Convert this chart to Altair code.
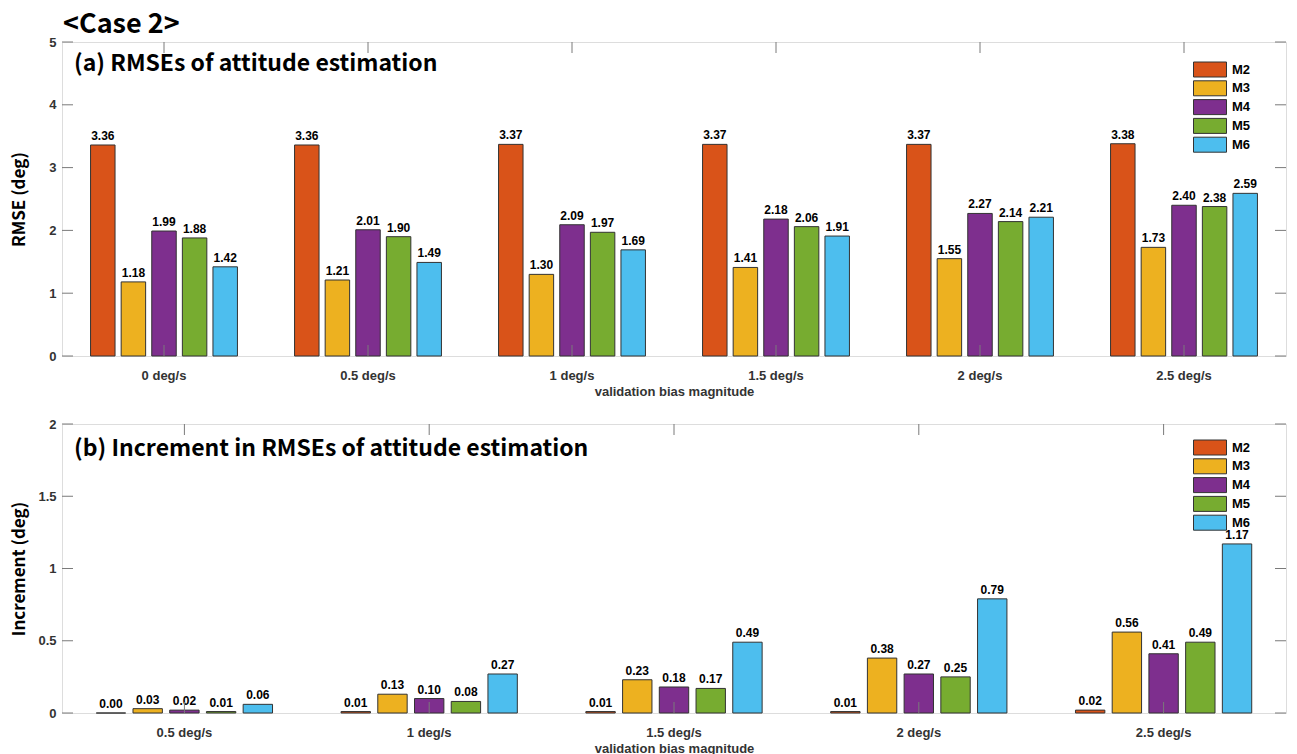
import altair as alt
import pandas as pd

series = ["M2", "M3", "M4", "M5", "M6"]
colors = ["#D95319", "#EDB120", "#7E2F8E", "#77AC30", "#4DBEEE"]

rmse_cats = ["0 deg/s", "0.5 deg/s", "1 deg/s", "1.5 deg/s", "2 deg/s", "2.5 deg/s"]
rmse_m2 = [3.36, 3.36, 3.37, 3.37, 3.37, 3.38]
rmse_m3 = [1.18, 1.21, 1.30, 1.41, 1.55, 1.73]
rmse_m4 = [1.99, 2.01, 2.09, 2.18, 2.27, 2.40]
rmse_m5 = [1.88, 1.90, 1.97, 2.06, 2.14, 2.38]
rmse_m6 = [1.42, 1.49, 1.69, 1.91, 2.21, 2.59]
rmse_ticks = [0, 1, 2, 3, 4, 5]

inc_cats = ["0.5 deg/s", "1 deg/s", "1.5 deg/s", "2 deg/s", "2.5 deg/s"]
inc_m2 = [0.00, 0.01, 0.01, 0.01, 0.02]
inc_m3 = [0.03, 0.13, 0.23, 0.38, 0.56]
inc_m4 = [0.02, 0.10, 0.18, 0.27, 0.41]
inc_m5 = [0.01, 0.08, 0.17, 0.25, 0.49]
inc_m6 = [0.06, 0.27, 0.49, 0.79, 1.17]
inc_ticks = [0, 0.5, 1, 1.5, 2]

FRAME = "#7a7a7a"
LBL = "#333333"
TICK = 11
W = 1224


def long_df(cats, cols):
    rows = []
    for s, vals in zip(series, cols):
        for c, v in zip(cats, vals):
            rows.append({"cat": c, "series": s, "value": v})
    return pd.DataFrame(rows)


def panel(df, cats, ticks, ymax, ytitle, ptitle, H, title_pad, leg_y, ptitle_y):
    xs = alt.Scale(paddingInner=0.25, paddingOuter=0.125)
    ys = alt.Scale(domain=[0, ymax], nice=False, zero=True)
    x = alt.X("cat:N", sort=cats, scale=xs,
              axis=alt.Axis(title="validation bias magnitude", labelAngle=0,
                            labelFont="Liberation Sans", labelFontWeight="bold",
                            labelFontSize=13, labelColor=LBL, labelPadding=13,
                            ticks=False, domain=False,
                            titleFont="Liberation Sans", titleFontWeight="bold",
                            titleFontSize=13, titleColor=LBL, titlePadding=3))
    y = alt.Y("value:Q", scale=ys,
              axis=alt.Axis(values=ticks, title=ytitle, format="~g", ticks=False,
                            domain=False, grid=False,
                            labelFont="Liberation Sans", labelFontWeight="bold",
                            labelFontSize=13, labelColor=LBL, labelPadding=6,
                            titleFont="Noto Sans CJK KR", titleFontWeight="bold",
                            titleFontSize=17, titleColor="black",
                            titlePadding=title_pad))
    xo = alt.XOffset("series:N", sort=series,
                     scale=alt.Scale(paddingInner=0.2, paddingOuter=0.1))
    color = alt.Color("series:N", sort=series,
                      scale=alt.Scale(domain=series, range=colors),
                      legend=alt.Legend(title=None, orient="none",
                                        legendX=1140, legendY=leg_y,
                                        symbolType="M-2.2,-1H2.2V1H-2.2Z",
                                        symbolSize=225, symbolStrokeColor="#333333",
                                        symbolStrokeWidth=1, symbolOpacity=1,
                                        labelFont="Liberation Sans",
                                        labelFontWeight="bold", labelFontSize=13,
                                        labelColor="black", labelOffset=14,
                                        rowPadding=-1.2, padding=0))
    bars = alt.Chart(df).mark_bar(stroke="#333333", strokeWidth=1).encode(
        x=x, xOffset=xo, y=y, color=color)
    labels = alt.Chart(df).mark_text(
        dy=-9, font="Liberation Sans", fontWeight="bold", fontSize=12,
        color="black").encode(
        x=x, xOffset=xo, y=y, text=alt.Text("value:Q", format=".2f"))
    tdf = pd.DataFrame({"value": ticks})
    yl = alt.Chart(tdf).mark_rule(color=FRAME).encode(
        y=alt.Y("value:Q"), x=alt.value(0), x2=alt.value(TICK))
    yr = alt.Chart(tdf).mark_rule(color=FRAME).encode(
        y=alt.Y("value:Q"), x=alt.value(W - TICK), x2=alt.value(W))
    cdf = pd.DataFrame({"cat": cats})
    xt = alt.Chart(cdf).mark_rule(color=FRAME).encode(
        x=alt.X("cat:N", sort=cats), y=alt.value(0), y2=alt.value(TICK))
    xb = alt.Chart(cdf).mark_rule(color=FRAME).encode(
        x=alt.X("cat:N", sort=cats), y=alt.value(H - TICK), y2=alt.value(H))
    ptxt = alt.Chart(pd.DataFrame({"t": [ptitle]})).mark_text(
        align="left", baseline="middle", font="Noto Sans CJK KR",
        fontWeight="bold", fontSize=23, color="black").encode(
        x=alt.value(12), y=alt.value(ptitle_y), text="t:N")
    return alt.layer(bars, labels, yl, yr, xt, xb, ptxt).properties(width=W, height=H)


top = panel(long_df(rmse_cats, [rmse_m2, rmse_m3, rmse_m4, rmse_m5, rmse_m6]),
            rmse_cats, rmse_ticks, 5, "RMSE (deg)",
            "(a) RMSEs of attitude estimation", 314, 20, 19.5, 22)
top = top.properties(title=alt.TitleParams(
    "<Case 2>", anchor="start", frame="group", font="Noto Sans CJK KR",
    fontSize=27, fontWeight="bold", color="black", offset=-3, dx=1))

bottom = panel(long_df(inc_cats, [inc_m2, inc_m3, inc_m4, inc_m5, inc_m6]),
               inc_cats, inc_ticks, 2, "Increment (deg)",
               "(b) Increment in RMSEs of attitude estimation", 289, 9, 15.5, 25)

chart = alt.vconcat(top, bottom, spacing=18).resolve_scale(
    x="independent", y="independent", color="independent",
    xOffset="independent").properties(
    padding={"left": 2, "top": 2, "right": 0, "bottom": 0}).configure_view(
    stroke=FRAME, strokeWidth=1).configure(background="white")

chart.save("out.html", embed_options={"renderer": "svg", "actions": False})
